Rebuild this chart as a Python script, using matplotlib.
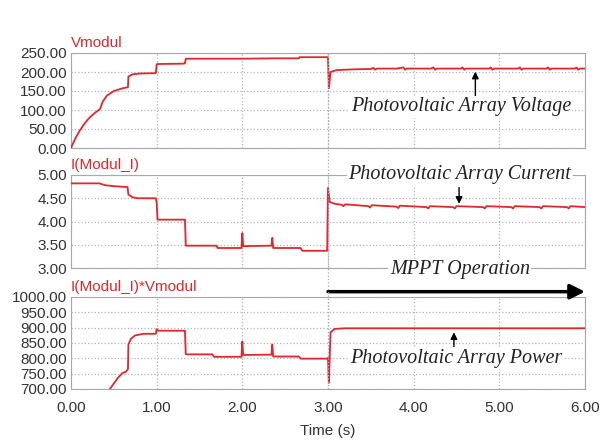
import matplotlib.pyplot as plt
from matplotlib.lines import Line2D
import numpy as np

plt.rcParams['font.family'] = ['Liberation Sans', 'DejaVu Sans']

# Vmodul (V)
t_v = [0.0, 0.05, 0.10, 0.15, 0.20, 0.25, 0.30, 0.34, 0.37, 0.42, 0.50, 0.60, 0.665, 0.67, 0.72,
       0.80, 0.99, 1.00, 1.01, 1.32, 1.33, 1.34, 1.60, 2.00, 2.40, 2.66, 2.67, 2.99, 3.00, 3.01,
       3.03, 3.10, 3.30, 3.50, 3.53, 3.55, 3.57, 3.80, 3.88, 3.90, 3.92, 4.20, 4.23, 4.25, 4.27,
       4.55, 4.57, 4.59, 4.61, 4.88, 4.90, 4.92, 4.94, 5.22, 5.24, 5.26, 5.28, 5.55, 5.57, 5.59,
       5.61, 5.88, 5.90, 5.92, 5.94, 6.00]
vmodul = [0, 25, 45, 62, 76, 87, 96, 103, 122, 138, 150, 157, 160, 188, 194,
          196, 197, 220, 221, 222, 223, 235, 235, 235, 236, 236, 239, 239, 239, 157,
          200, 205, 207, 208, 211, 206, 209, 209, 212, 206, 209, 209, 212, 206, 209,
          209, 212, 206, 209, 209, 212, 206, 209, 209, 212, 206, 209, 209, 212, 206,
          209, 209, 212, 206, 209, 209]

# I(Modul_I) (A)
t_i = [0.0, 0.33, 0.40, 0.50, 0.66, 0.67, 0.72, 0.78, 0.99, 1.00, 1.01, 1.33, 1.34, 1.70, 1.71,
       1.99, 2.00, 2.01, 2.34, 2.35, 2.36, 2.68, 2.70, 2.99, 3.00, 3.02, 3.08, 3.16, 3.18, 3.20,
       3.47, 3.49, 3.51, 3.80, 3.82, 3.84, 4.15, 4.17, 4.19, 4.46, 4.48, 4.50, 4.81, 4.83, 4.85,
       5.14, 5.16, 5.18, 5.47, 5.49, 5.51, 5.79, 5.81, 5.83, 6.00]
i_modul = [4.82, 4.82, 4.78, 4.76, 4.74, 4.58, 4.52, 4.50, 4.50, 4.40, 4.04, 4.04, 3.48, 3.48, 3.43,
           3.43, 3.75, 3.47, 3.48, 3.65, 3.43, 3.43, 3.37, 3.37, 4.72, 4.42, 4.38, 4.36, 4.33, 4.37,
           4.33, 4.30, 4.35, 4.32, 4.29, 4.34, 4.31, 4.28, 4.33, 4.31, 4.28, 4.33, 4.31, 4.28, 4.33,
           4.31, 4.28, 4.33, 4.31, 4.28, 4.33, 4.31, 4.28, 4.33, 4.31]

# I(Modul_I)*Vmodul (W)
t_p = [0.0, 0.20, 0.40, 0.45, 0.50, 0.55, 0.60, 0.64, 0.665, 0.67, 0.70, 0.75, 0.85, 0.99, 1.00,
       1.02, 1.32, 1.33, 1.34, 1.65, 1.67, 1.99, 2.00, 2.01, 2.34, 2.35, 2.36, 2.66, 2.68, 2.99,
       3.00, 3.01, 3.03, 3.08, 3.20, 3.40, 6.00]
p_modul = [0, 380, 620, 698, 718, 737, 752, 756, 765, 845, 864, 875, 880, 880, 895,
           890, 890, 890, 813, 813, 805, 805, 855, 811, 812, 845, 806, 806, 799, 799,
           801, 720, 885, 896, 898, 898, 898]

red = '#e3262b'
frame = '#a8a8a8'
grid_c = '#b4b4b4'
tick_c = '#333333'

fig = plt.figure(figsize=(6.06, 4.43), dpi=100)
left, width = 71 / 606, 514 / 606
ax1 = fig.add_axes([left, 1 - 148 / 443, width, 95 / 443])
ax2 = fig.add_axes([left, 1 - 268 / 443, width, 93 / 443])
ax3 = fig.add_axes([left, 1 - 389 / 443, width, 92 / 443])

panels = [
    (ax1, t_v, vmodul, 'Vmodul', np.arange(0, 251, 50), (0, 250)),
    (ax2, t_i, i_modul, 'I(Modul_I)', np.arange(3.0, 5.01, 0.5), (3.0, 5.0)),
    (ax3, t_p, p_modul, 'I(Modul_I)*Vmodul', np.arange(700, 1001, 50), (700, 1000)),
]
for ax, t, y, title, yticks, ylim in panels:
    ax.plot(t, y, color=red, lw=1.3, zorder=3)
    ax.set_xlim(0, 6)
    ax.set_ylim(*ylim)
    ax.set_yticks(yticks)
    ax.set_yticklabels(['%.2f' % v for v in yticks])
    ax.set_xticks(np.arange(0, 6.01, 1.0))
    ax.grid(True, linestyle=':', color=grid_c, lw=0.9)
    ax.tick_params(length=0, labelsize=11, labelcolor=tick_c, pad=3)
    for s in ax.spines.values():
        s.set_color(frame)
    ax.set_title(title, loc='left', color=red, fontsize=11, pad=4)

ax1.tick_params(labelbottom=False)
ax2.tick_params(labelbottom=False)
ax3.set_xticklabels(['%.2f' % v for v in np.arange(0, 6.01, 1.0)])
ax3.tick_params(axis='x', pad=9)
ax3.set_xlabel('Time (s)', fontsize=11, color=tick_c, labelpad=6)

# cursor line at t = 3 through all panels
x3 = left + width * 0.5
fig.add_artist(Line2D([x3, x3], [1 - 389 / 443, 1 - 53 / 443], transform=fig.transFigure,
                      color='#9fa8e0', lw=0.9, linestyle=':', zorder=1))

ann_font = dict(family='Liberation Serif', style='italic', fontsize=14.5, color='#222222')
box = dict(facecolor='white', edgecolor='none', pad=1.0)

ax1.text(4.55, 108, 'Photovoltaic Array Voltage', ha='center', va='center', bbox=box, zorder=4, **ann_font)
ax1.annotate('', xy=(4.72, 201), xytext=(4.72, 137),
             arrowprops=dict(arrowstyle='-|>', color='black', lw=1.0, mutation_scale=10, shrinkA=0, shrinkB=0))

ax2.text(4.54, 1.0, 'Photovoltaic Array Current', ha='center', va='center', transform=ax2.get_xaxis_transform(),
         bbox=box, zorder=6, clip_on=False, **ann_font)
ax2.annotate('', xy=(4.53, 4.38), xytext=(4.53, 4.73),
             arrowprops=dict(arrowstyle='-|>', color='black', lw=1.0, mutation_scale=10, shrinkA=0, shrinkB=0))

ax2.text(4.54, -0.02, 'MPPT Operation', ha='center', va='center', transform=ax2.get_xaxis_transform(),
         bbox=box, zorder=6, clip_on=False, **ann_font)
ax3.annotate('', xy=(6.0, 1.058), xytext=(3.0, 1.058), xycoords=ax3.get_xaxis_transform(),
             textcoords=ax3.get_xaxis_transform(), annotation_clip=False,
             arrowprops=dict(arrowstyle='-|>', color='black', lw=2.5, mutation_scale=22, shrinkA=0, shrinkB=0))

ax3.text(4.50, 801, 'Photovoltaic Array Power', ha='center', va='center', bbox=box, zorder=4, **ann_font)
ax3.annotate('', xy=(4.47, 885), xytext=(4.47, 826),
             arrowprops=dict(arrowstyle='-|>', color='black', lw=1.0, mutation_scale=10, shrinkA=0, shrinkB=0))

fig.savefig('out.png', dpi=100)
